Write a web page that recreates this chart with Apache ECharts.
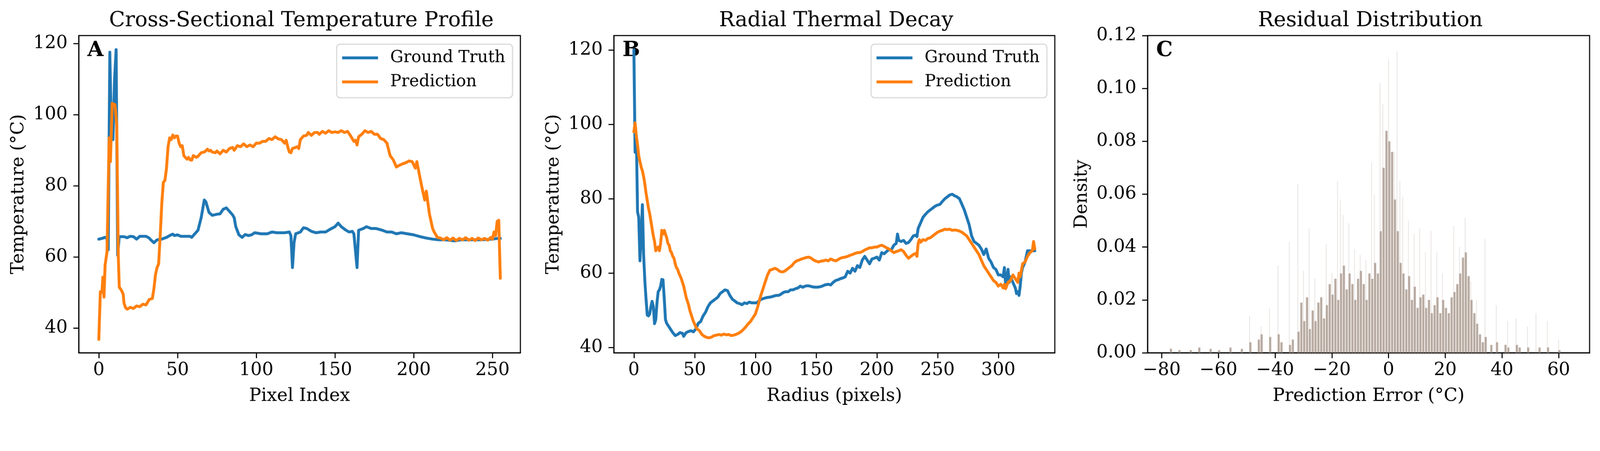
<!DOCTYPE html>
<html>
<head>
<meta charset="utf-8">
<script src="https://cdn.jsdelivr.net/npm/echarts@6.0.0/dist/echarts.min.js"></script>
<style>
  html, body { margin: 0; padding: 0; background: #fff; overflow: hidden; }
  #main { width: 4452px; height: 1155px; transform-origin: 0 0; }
</style>
</head>
<body>
<div id="main"></div>
<script>
// ---- data ----
var crossTruth = [[0,65],[2,65.2],[4,65.5],[5,65.5],[6,62],[7,117.6],[8,95],[9,93],[10,110],[11,118.3],[12,60.5],[13,65.7],[16,65.7],[18,65.4],[20,65.8],[22,65.7],[24,65],[26,65.8],[28,65.8],[30,65.8],[32,65.3],[33,64.8],[35,64],[37,64.8],[40,65],[43,65.5],[45,66],[47,66.4],[48,66],[50,66.2],[52,65.8],[55,65.8],[58,65.8],[59,65.5],[61,66.5],[63,67.5],[65,71],[67,76],[68,75.5],[70,72.5],[72,71.7],[75,72],[77,72.1],[79,73.4],[81,73.8],[83,72.8],[85,71.8],[86,71],[87,68.5],[89,66.2],[91,65.5],[93,66.3],[95,66],[97,66.2],[99,66.8],[103,66.5],[107,66.5],[110,67],[113,66.8],[118,66.8],[121,67],[122,66],[123,57],[124,64],[125,66.5],[128,67],[130,68.2],[132,68],[135,67.2],[138,66.8],[141,67],[144,67],[147,67.8],[150,68.5],[152,69.5],[154,68.5],[157,67.5],[159,67],[161,67.2],[162,66.5],[164,57],[165,67.5],[168,68],[170,68.5],[173,68],[176,68],[180,67.5],[183,67],[186,67],[189,66.5],[192,66.8],[196,66.5],[200,66.2],[204,65.7],[208,65.3],[212,65],[216,64.8],[220,64.8],[226,64.5],[230,64.8],[236,64.8],[243,64.8],[250,65],[253,65.2],[255,65.2]];

var crossPred = [[0,36.8],[1,50.2],[2,50],[2.6,54.3],[3.3,48.7],[4,57.7],[5.2,61.4],[6.6,93.5],[7.4,86.8],[8.5,103.2],[10.3,102.8],[11.4,97.2],[12.4,60],[13,51.5],[14.5,50.5],[15.5,49.5],[16,47],[17,45.7],[18,45.3],[20,45.8],[22,45.5],[24,46.2],[26,46],[28,46.7],[30,46.5],[32,48],[34,48.3],[35,51],[36,55],[37,57],[38,58],[39,66],[40,75],[41,81],[42,81.5],[43,85],[44,91],[45,93.5],[46,93],[47,94.3],[48,93.5],[49,94],[50,94],[51,92],[52,91],[53,91.3],[54,88.5],[55,88],[56,87.5],[57,88],[58,87.3],[59,87.2],[60,88.5],[62,88],[63,88.3],[65,89.3],[67,89.5],[69,90.3],[70,89.8],[71,90],[72,89.5],[74,89.3],[75,89.8],[77,89],[79,90],[81,89.5],[83,90.5],[85,90.8],[86,90],[88,91.3],[90,91],[92,91.8],[94,91],[96,91.5],[98,91],[100,92],[102,92],[104,92.5],[106,92.5],[108,93.3],[110,93],[112,93.8],[114,93.2],[116,93],[118,92],[119,92.8],[120,91],[121,89.5],[122,89.3],[123,90.5],[125,90.8],[126,91],[127,90.5],[128,93],[130,94],[132,94.2],[133,95],[135,94.2],[137,95],[139,95],[140,94.5],[142,95.3],[144,94.8],[146,95.5],[148,95],[150,95.2],[152,95],[154,95.5],[156,95],[158,95.3],[160,94],[162,92.5],[163,92.8],[164,91.5],[165,93.8],[167,94.5],[169,95.5],[171,95],[173,95.3],[175,94.5],[177,94.5],[179,93.3],[181,93],[183,92],[185,88.5],[187,87.3],[189,85.3],[191,85.8],[193,86.2],[195,86.5],[197,87],[199,86.8],[201,85],[202,86.8],[203,84.5],[205,80],[207,76],[208,78.5],[210,72],[212,68],[213,67],[215,65.5],[217,65.3],[219,64.8],[221,65.4],[223,64.7],[225,65.3],[227,64.6],[229,65.2],[231,64.8],[233,65.4],[235,64.7],[237,65.2],[239,64.6],[241,65.3],[243,64.8],[245,65.2],[247,64.7],[249,65.5],[250,65],[251,67],[252,66],[253,70],[254,70.3],[255,54]];

var radialTruth = [[0,120],[1,92.5],[2,97],[3,76.5],[4,75],[5,63.3],[6,70],[7,78.4],[8,65],[9,58],[10,53],[11,48.7],[12,48.5],[13,49],[14,51],[15,52.4],[16,51],[17,46.4],[18,47.5],[19,52],[20,55],[21,55.5],[22,56.5],[23,58.3],[24,58.2],[25,53],[26,47.5],[27,46.5],[28,46],[30,45],[32,44],[34,43.2],[36,43.5],[38,44],[40,43.8],[41,43],[43,44],[45,44.3],[47,44.5],[49,44.2],[51,45],[53,46.5],[55,47],[57,48.5],[59,49.5],[61,51],[63,52],[65,52.5],[67,53],[69,53.5],[71,54.5],[73,55],[75,55.5],[77,55.3],[79,54],[81,53],[83,52.5],[85,52],[87,51.8],[89,51.5],[91,52],[93,51.8],[95,52.2],[97,52],[99,52],[101,52],[103,52.5],[105,53],[107,53.2],[109,53.4],[111,53.5],[113,53.6],[115,53.8],[117,54],[119,54],[121,54.3],[123,54.8],[125,55],[127,55],[129,55.5],[131,55.5],[133,55.8],[135,56],[137,56.5],[139,56.2],[141,56.5],[143,56.6],[145,56.5],[147,56.3],[150,56.2],[153,56.3],[155,56.5],[157,56.8],[160,57],[162,56.8],[164,57.5],[166,58],[168,58.2],[170,58.5],[172,58.7],[174,59],[176,60.5],[178,60],[180,61.3],[182,60.5],[184,62],[186,61.5],[188,63.5],[190,64.5],[192,63.5],[194,62.5],[196,63.8],[198,64],[200,64.3],[202,63.5],[204,65.5],[206,65.2],[208,65.8],[210,66.3],[212,66.3],[214,67.5],[216,68],[217,70.5],[218,68.8],[220,68.5],[222,68.8],[224,68],[226,68.2],[228,69],[230,70],[232,70.2],[233,69.8],[234,72],[236,73.5],[238,75],[240,75.8],[242,76.5],[244,77],[246,77.5],[248,78],[250,78.3],[252,78.5],[254,79.3],[256,80],[258,80.5],[260,81],[262,81.2],[264,80.8],[266,80.5],[268,80],[270,78.5],[272,77],[274,75],[276,73],[278,70],[280,68.5],[282,68],[284,67.5],[286,66.5],[288,65],[290,66.5],[292,64],[294,63],[296,61.5],[298,61],[300,59.5],[302,59.5],[304,59],[305,61.5],[306,57],[307,58],[308,61],[309,57.5],[310,59],[312,57.5],[314,56],[315,54.5],[316,55],[317,54],[318,56.5],[319,60],[320,61.5],[322,63],[324,66],[326,66],[328,66],[330,66]];

var radialPred = [[0,98],[1,100.4],[2,97],[3,94.5],[4,91.5],[5,90],[6,88.5],[7,87.5],[8,86],[9,84],[10,81.5],[11,79.5],[12,77.5],[13,76],[14,74],[15,72],[16,70],[17,68.5],[18,66],[19,66.5],[20,67],[21,66],[22,68],[23,71.5],[24,70.5],[25,71.5],[26,70.5],[27,69.5],[28,68],[29,67.5],[30,66],[31,65.5],[32,64.5],[33,64],[34,62.5],[35,61.5],[36,61],[37,60],[38,59.3],[39,58.5],[40,57.5],[41,56.5],[42,55],[43,53.5],[44,52.5],[45,51.5],[46,50],[47,49],[48,48],[49,47],[50,46.3],[51,45.5],[52,45],[54,44.5],[56,43.5],[58,43],[60,42.7],[62,42.6],[64,42.8],[66,43.2],[68,43.3],[70,43.5],[72,43.3],[74,43.6],[76,43.4],[78,43.5],[80,43.2],[82,43.3],[84,43.5],[86,43.8],[88,44.2],[90,44.8],[92,45.5],[94,46.3],[96,47],[98,48],[100,49],[102,51],[104,53.5],[106,55.5],[108,57.5],[110,59.5],[112,60.8],[114,61],[116,61.3],[118,61],[120,60.5],[122,60.3],[124,60.5],[126,61],[128,61.5],[130,62],[132,62.8],[134,63.3],[136,63.5],[138,63.8],[140,64],[142,64.2],[144,64.3],[146,64],[148,63.5],[150,63.2],[152,63],[154,63.2],[156,63.3],[158,63.5],[160,63.3],[162,63.8],[164,63.5],[166,63.3],[168,63.6],[170,64],[172,64.2],[174,64.3],[176,64.5],[178,64.8],[180,65],[182,65.3],[184,65.5],[186,65.5],[188,65.8],[190,66.2],[192,66.5],[194,66.8],[196,66.8],[198,67],[200,67],[202,67.3],[204,67.5],[206,67.2],[208,66.8],[210,66.5],[212,66],[214,65.5],[216,65.8],[218,66],[220,66.3],[222,65.8],[224,64.8],[226,64],[228,64.5],[230,65],[232,65.3],[233,64.5],[234,68],[235,69],[236,68.3],[238,69],[240,68.8],[242,69.3],[244,69.5],[246,70],[248,70.5],[250,71],[252,71.3],[254,71.5],[256,71.8],[258,71.7],[260,71.8],[262,71.5],[264,71.6],[266,71.5],[268,71.3],[270,71],[272,70.5],[274,70],[276,69],[278,68],[280,67],[282,66],[284,65],[286,63.5],[288,62],[290,61],[292,60],[294,59],[296,58],[298,57.5],[300,56.5],[302,57],[304,56],[305,57],[306,55.8],[308,57.5],[310,58],[312,59.5],[314,58.5],[316,57.5],[317,60],[318,59],[320,62.5],[322,63],[324,64.5],[326,65.5],[328,66],[329,68.5],[330,66.5]];

// residual histogram: [error bin (°C), density]
var residualDense = [[-77,0.0015],[-74,0.001],[-70,0.001],[-67,0.002],[-63,0.0015],[-60,0.001],[-56,0.002],[-52,0.0015],[-49,0.004],[-46,0.005],[-45,0.007],[-42,0.006],[-39,0.007],[-38,0.004],[-35,0.003],[-34,0.005],[-32,0.008],[-31,0.019],[-30,0.012],[-29,0.021],[-28,0.009],[-27,0.016],[-26,0.012],[-25,0.019],[-24,0.021],[-23,0.013],[-22,0.018],[-21,0.026],[-20,0.022],[-19,0.028],[-18,0.02],[-17,0.03],[-16,0.033],[-15,0.024],[-14,0.03],[-13,0.026],[-12,0.02],[-11,0.028],[-10,0.031],[-9,0.026],[-8,0.02],[-7,0.03],[-6,0.028],[-5,0.034],[-4,0.03],[-3,0.046],[-2,0.07],[-1,0.084],[0,0.08],[1,0.076],[2,0.058],[3,0.046],[4,0.034],[5,0.03],[6,0.024],[7,0.029],[8,0.02],[9,0.025],[10,0.017],[11,0.021],[12,0.022],[13,0.017],[14,0.02],[15,0.015],[16,0.018],[17,0.021],[18,0.015],[19,0.02],[20,0.017],[21,0.015],[22,0.021],[23,0.023],[24,0.026],[25,0.03],[26,0.036],[27,0.038],[28,0.029],[29,0.02],[30,0.015],[31,0.011],[32,0.007],[33,0.004],[34,0.006],[36,0.003],[38,0.004],[41,0.003],[42,0.002],[45,0.003],[46,0.002],[49,0.002],[53,0.002],[56,0.002],[60,0.001]];
var residualSpikes = [[-77,0.002],[-49,0.014],[-45,0.01],[-42,0.017],[-39,0.033],[-35,0.042],[-32,0.064],[-30,0.031],[-28,0.047],[-26,0.028],[-22,0.041],[-20,0.03],[-18,0.065],[-17,0.058],[-16,0.052],[-14,0.049],[-12,0.039],[-10,0.037],[-8,0.035],[-6,0.072],[-5,0.06],[-3,0.102],[-2,0.094],[0,0.111],[2,0.076],[3,0.114],[4,0.065],[5,0.059],[7,0.05],[9,0.045],[11,0.047],[13,0.038],[15,0.046],[17,0.038],[19,0.03],[23,0.048],[25,0.04],[27,0.051],[29,0.027],[31,0.02],[34,0.043],[38,0.018],[42,0.012],[45,0.013],[49,0.01],[52,0.015],[56,0.012],[60,0.005]];

var crossTicks = [0, 50, 100, 150, 200, 250];
var radialTicks = [0, 50, 100, 150, 200, 250, 300];
var tempTicks = [40, 60, 80, 100, 120];
var errorTicks = [-80, -60, -40, -20, 0, 20, 40, 60];
var densityTicks = [0, 0.02, 0.04, 0.06, 0.08, 0.10, 0.12];

var FONT = 'DejaVu Serif';
var BLUE = '#1f77b4', ORANGE = '#ff7f0e';
var W = 4452, H = 1155;

// frame boxes of the three panels (px)
var boxes = [
  {left: 219, top: 99, width: 1229, height: 883},
  {left: 1708, top: 99, width: 1227, height: 883},
  {left: 3193, top: 99, width: 1230, height: 883}
];

function xAxisOf(idx, min, max, ticks, name) {
  return {
    type: 'value', gridIndex: idx, min: min, max: max,
    name: name, nameLocation: 'middle', nameGap: 96,
    nameTextStyle: {fontFamily: FONT, fontSize: 50, color: '#000'},
    axisLine: {show: true, onZero: false, lineStyle: {color: '#000', width: 3}},
    axisTick: {show: true, length: 15, lineStyle: {color: '#000', width: 3}, customValues: ticks},
    axisLabel: {fontFamily: FONT, fontSize: 50, color: '#000', margin: 24, customValues: ticks,
      formatter: function (v) { return String(v).replace('-', '\u2212'); }},
    splitLine: {show: false}
  };
}
function yAxisOf(idx, min, max, ticks, name, gap, digits) {
  return {
    type: 'value', gridIndex: idx, min: min, max: max,
    name: name, nameLocation: 'middle', nameGap: gap,
    nameTextStyle: {fontFamily: FONT, fontSize: 50, color: '#000'},
    axisLine: {show: true, onZero: false, lineStyle: {color: '#000', width: 3}},
    axisTick: {show: true, length: 15, lineStyle: {color: '#000', width: 3}, customValues: ticks},
    axisLabel: {fontFamily: FONT, fontSize: 50, color: '#000', margin: 31, customValues: ticks,
      formatter: function (v) { return digits ? v.toFixed(digits) : String(v); }},
    splitLine: {show: false}
  };
}
function lineSeries(name, data, color, idx) {
  return {
    type: 'line', name: name, data: data, xAxisIndex: idx, yAxisIndex: idx,
    symbol: 'none', clip: true, color: color,
    lineStyle: {color: color, width: 8, join: 'round', cap: 'round'}
  };
}
function legendAt(frameRight) {
  return {
    orient: 'vertical', right: W - frameRight + 22, top: 123,
    icon: 'rect', itemWidth: 100, itemHeight: 8, itemGap: 19,
    padding: [14, 20, 20, 15],
    borderColor: '#d8d8d8', borderWidth: 3, borderRadius: 10, backgroundColor: '#fff',
    selectedMode: false,
    data: ['Ground Truth', 'Prediction'],
    textStyle: {fontFamily: FONT, fontSize: 46, color: '#000', lineHeight: 48, padding: [0, 0, 0, 29]}
  };
}
function titleAt(text, box) {
  return {
    text: text, left: box.left + box.width / 2, top: 24, textAlign: 'center',
    textStyle: {fontFamily: FONT, fontSize: 58, fontWeight: 'normal', color: '#000'}
  };
}
function letterAt(text, box) {
  return {
    type: 'text', x: box.left + 24, y: 112,
    style: {text: text, font: 'bold 58px "' + FONT + '"', fill: '#000', textVerticalAlign: 'top'}
  };
}

// the window may be narrower than the figure: scale the whole figure to fit
var el = document.getElementById('main');
var s = Math.min(window.innerWidth / W, window.innerHeight / H);
if (s > 0 && s < 1) { el.style.transform = 'scale(' + s + ')'; }

var myChart = echarts.init(el, null, {renderer: 'canvas', width: W, height: H});
var option = {
  animation: false,
  backgroundColor: '#fff',
  title: [
    titleAt('Cross-Sectional Temperature Profile', boxes[0]),
    titleAt('Radial Thermal Decay', boxes[1]),
    titleAt('Residual Distribution', boxes[2])
  ],
  grid: boxes.map(function (b) {
    return {left: b.left, top: b.top, width: b.width, height: b.height,
      show: true, borderColor: '#000', borderWidth: 3, backgroundColor: 'transparent'};
  }),
  legend: [legendAt(boxes[0].left + boxes[0].width), legendAt(boxes[1].left + boxes[1].width)],
  xAxis: [
    xAxisOf(0, -12.75, 267.75, crossTicks, 'Pixel Index'),
    xAxisOf(1, -16.5, 346.5, radialTicks, 'Radius (pixels)'),
    xAxisOf(2, -85, 70.9, errorTicks, 'Prediction Error (\u00b0C)')
  ],
  yAxis: [
    yAxisOf(0, 33.02, 122.27, tempTicks, 'Temperature (\u00b0C)', 142, 0),
    yAxisOf(1, 38.57, 123.87, tempTicks, 'Temperature (\u00b0C)', 142, 0),
    yAxisOf(2, 0, 0.12, densityTicks, 'Density', 157, 2)
  ],
  series: [
    lineSeries('Ground Truth', crossTruth, BLUE, 0),
    lineSeries('Prediction', crossPred, ORANGE, 0),
    lineSeries('Ground Truth', radialTruth, BLUE, 1),
    lineSeries('Prediction', radialPred, ORANGE, 1),
    {
      type: 'bar', name: 'residual', data: residualDense, xAxisIndex: 2, yAxisIndex: 2,
      barWidth: 6, barGap: '-100%', itemStyle: {color: 'rgba(165,148,136,0.78)'}
    },
    {
      type: 'bar', name: 'residual spikes', data: residualSpikes, xAxisIndex: 2, yAxisIndex: 2,
      barWidth: 2, barGap: '-100%', itemStyle: {color: 'rgba(175,158,148,0.3)'}
    }
  ],
  graphic: [
    letterAt('A', boxes[0]),
    letterAt('B', boxes[1]),
    letterAt('C', boxes[2])
  ]
};
myChart.setOption(option);
</script>
</body>
</html>
